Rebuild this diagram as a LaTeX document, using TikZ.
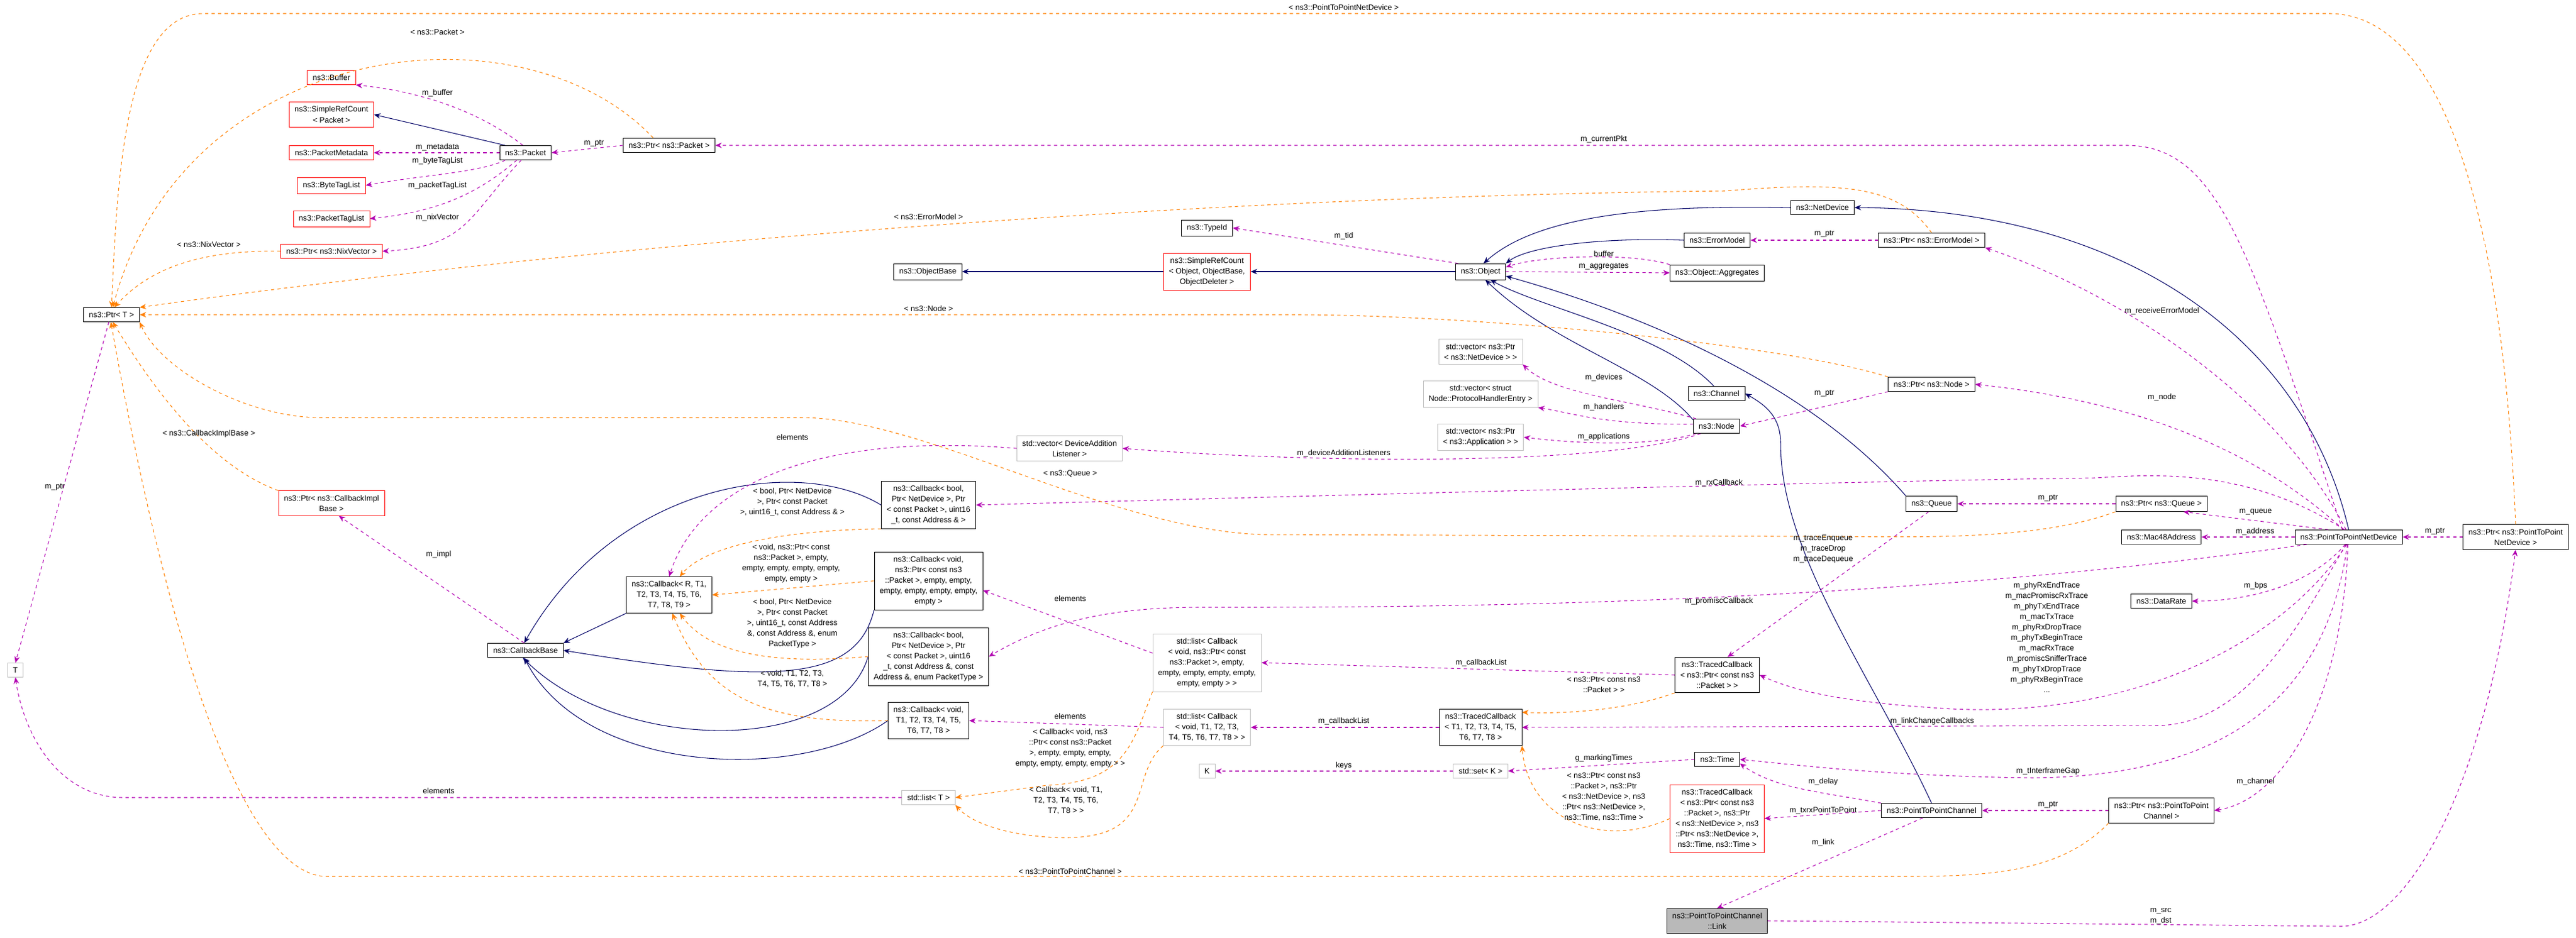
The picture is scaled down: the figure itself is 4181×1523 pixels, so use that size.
\documentclass[tikz,border=0pt]{standalone}
\usepackage{fontspec}
\setmainfont{Liberation Sans}
\usetikzlibrary{arrows.meta}

\tikzset{
  cls/.style={draw=black, fill=white, align=center, inner xsep=5pt, inner ysep=4pt, font=\fontsize{7.2}{9.7}\selectfont},
  redcls/.style={cls, draw=red},
  graycls/.style={cls, draw=gray!50},
  hlcls/.style={cls, fill=gray!55},
  lab/.style={align=center, inner sep=0pt, font=\fontsize{7.2}{9.7}\selectfont},
  usage/.style={draw=violet!60!magenta, dash pattern=on 3pt off 3pt, line width=0.6pt, -{Stealth[length=6pt,width=5pt]}},
  tmpl/.style={draw=orange, dash pattern=on 3pt off 3pt, line width=0.6pt, -{Stealth[length=6pt,width=5pt]}},
  inh/.style={draw=blue!40!black, line width=0.6pt, -{Stealth[length=6pt,width=5pt]}}
}

\begin{document}
\begin{tikzpicture}[x=0.02cm, y=-0.02cm]
\useasboundingbox (0,0) rectangle (4181,1523);
% classes
\node[redcls] (buf) at (538,126) {ns3::Buffer};
\node[redcls] (srcpkt) at (538,186) {ns3::SimpleRefCount\\< Packet >};
\node[redcls] (meta) at (538,248) {ns3::PacketMetadata};
\node[redcls] (btl) at (538,301) {ns3::ByteTagList};
\node[redcls] (ptl) at (538,355) {ns3::PacketTagList};
\node[redcls] (ptrnix) at (538,408) {ns3::Ptr< ns3::NixVector >};
\node[cls] (pkt) at (853,248) {ns3::Packet};
\node[cls] (ptrpkt) at (1086,236) {ns3::Ptr< ns3::Packet >};
\node[cls] (ptrt) at (181,511) {ns3::Ptr< T >};
\node[graycls] (t) at (25,1088) {T};
\node[redcls] (ptrcib) at (538,817) {ns3::Ptr< ns3::CallbackImpl\\Base >};
\node[cls] (cbb) at (853,1056) {ns3::CallbackBase};
\node[cls] (cbr) at (1086,966) {ns3::Callback< R, T1,\\T2, T3, T4, T5, T6,\\T7, T8, T9 >};
\node[cls] (cbaddr) at (1507,820) {ns3::Callback< bool,\\Ptr< NetDevice >, Ptr\\< const Packet >, uint16\\\_t, const Address \& >};
\node[cls] (cbvp) at (1507,943) {ns3::Callback< void,\\ns3::Ptr< const ns3\\::Packet >, empty, empty,\\empty, empty, empty, empty,\\empty >};
\node[cls] (cbpt) at (1507,1066) {ns3::Callback< bool,\\Ptr< NetDevice >, Ptr\\< const Packet >, uint16\\\_t, const Address \&, const\\Address \&, enum PacketType >};
\node[cls] (cbt) at (1507,1170) {ns3::Callback< void,\\T1, T2, T3, T4, T5,\\T6, T7, T8 >};
\node[graycls] (listt) at (1507,1295) {std::list< T >};
\node[graycls] (lcbp) at (1959,1076) {std::list< Callback\\< void, ns3::Ptr< const\\ns3::Packet >, empty,\\empty, empty, empty, empty,\\empty, empty > >};
\node[graycls] (lcbt) at (1959,1181) {std::list< Callback\\< void, T1, T2, T3,\\T4, T5, T6, T7, T8 > >};
\node[graycls] (k) at (1959,1252) {K};
\node[graycls] (setk) at (2403,1252) {std::set< K >};
\node[cls] (tct) at (2403,1181) {ns3::TracedCallback\\< T1, T2, T3, T4, T5,\\T6, T7, T8 >};
\node[cls] (tcp) at (2787,1096) {ns3::TracedCallback\\< ns3::Ptr< const ns3\\::Packet > >};
\node[cls] (time) at (2787,1233) {ns3::Time};
\node[redcls] (tcpt) at (2787,1329) {ns3::TracedCallback\\< ns3::Ptr< const ns3\\::Packet >, ns3::Ptr\\< ns3::NetDevice >, ns3\\::Ptr< ns3::NetDevice >,\\ns3::Time, ns3::Time >};
\node[hlcls] (link) at (2787,1495) {ns3::PointToPointChannel\\::Link};
\node[cls] (tid) at (1959,370) {ns3::TypeId};
\node[cls] (objbase) at (1506,441) {ns3::ObjectBase};
\node[redcls] (srcobj) at (1959,441) {ns3::SimpleRefCount\\< Object, ObjectBase,\\ObjectDeleter >};
\node[cls] (obj) at (2403,441) {ns3::Object};
\node[cls] (agg) at (2787,443) {ns3::Object::Aggregates};
\node[cls] (em) at (2787,390) {ns3::ErrorModel};
\node[graycls] (vnd) at (2403,571) {std::vector< ns3::Ptr\\< ns3::NetDevice > >};
\node[graycls] (vph) at (2403,640) {std::vector< struct\\Node::ProtocolHandlerEntry >};
\node[graycls] (vapp) at (2403,710) {std::vector< ns3::Ptr\\< ns3::Application > >};
\node[graycls] (vdal) at (1736,728) {std::vector< DeviceAddition\\Listener >};
\node[cls] (chan) at (2786,639) {ns3::Channel};
\node[cls] (node) at (2786,692) {ns3::Node};
\node[cls] (nd) at (2958,337) {ns3::NetDevice};
\node[cls] (ptrem) at (3135,390) {ns3::Ptr< ns3::ErrorModel >};
\node[cls] (ptrnode) at (3135,624) {ns3::Ptr< ns3::Node >};
\node[cls] (queue) at (3135,818) {ns3::Queue};
\node[cls] (ptrq) at (3508,818) {ns3::Ptr< ns3::Queue >};
\node[cls] (mac) at (3508,872) {ns3::Mac48Address};
\node[cls] (pnd) at (3812,872) {ns3::PointToPointNetDevice};
\node[cls] (ptrpnd) at (4083,872) {ns3::Ptr< ns3::PointToPoint\\NetDevice >};
\node[cls] (dr) at (3508,976) {ns3::DataRate};
\node[cls] (pch) at (3135,1316) {ns3::PointToPointChannel};
\node[cls] (ptrch) at (3508,1316) {ns3::Ptr< ns3::PointToPoint\\Channel >};

% inheritance
\draw[inh] (pkt.160) -- (srcpkt.east);
\draw[inh] (cbr.south west) -- (cbb.north east);
\draw[inh] (cbaddr.west) .. controls (1300,740) and (1000,780) .. (cbb.100);
\draw[inh] (cbvp.south west) .. controls (1390,1110) and (1250,1110) .. (cbb.east);
\draw[inh] (cbpt.west) .. controls (1360,1230) and (1000,1220) .. (cbb.-110);
\draw[inh] (cbt.west) .. controls (1300,1270) and (950,1260) .. (cbb.-100);
\draw[inh] (srcobj.west) -- (objbase.east);
\draw[inh] (obj.west) -- (srcobj.east);
\draw[inh] (nd.west) .. controls (2700,333) and (2500,345) .. (obj.70);
\draw[inh] (em.west) .. controls (2600,385) and (2480,400) .. (obj.north east);
\draw[inh] (queue.north west) .. controls (2950,640) and (2700,520) .. (obj.-10);
\draw[inh] (chan.110) .. controls (2700,540) and (2500,500) .. (obj.-40);
\draw[inh] (node.165) .. controls (2680,600) and (2520,560) .. (obj.-60);
\draw[inh] (pnd.north) .. controls (3740,550) and (3450,340) .. (nd.east);
\draw[inh] (pch.north) .. controls (3040,1100) and (2890,900) .. (2890,720) .. controls (2890,680) and (2870,660) .. (chan.east);

% usage
\draw[usage] (pkt.110) .. controls (790,190) and (700,150) .. (buf.south east);
\draw[usage] (pkt.west) -- (meta.east);
\draw[usage] (pkt.-160) .. controls (780,280) and (680,285) .. (btl.east);
\draw[usage] (pkt.-140) .. controls (770,320) and (700,345) .. (ptl.east);
\draw[usage] (pkt.-120) .. controls (760,350) and (760,400) .. (ptrnix.east);
\draw[usage] (ptrpkt.west) -- (pkt.east);
\draw[usage] (pnd.130) .. controls (3650,400) and (3600,236) .. (3450,236) -- (ptrpkt.east);
\draw[usage] (ptrt.-110) -- (t.north);
\draw[usage] (cbb.100) -- (ptrcib.-60);
\draw[usage] (listt.west) -- (200,1295) .. controls (100,1295) and (40,1200) .. (t.south);
\draw[usage] (obj.160) -- (tid.east);
\draw[usage] (obj.east) -- (agg.west);
\draw[usage] (agg.north west) .. controls (2650,410) and (2500,415) .. (obj.10);
\draw[usage] (ptrem.west) -- (em.east);
\draw[usage] (node.160) .. controls (2650,650) and (2520,640) .. (vnd.south east);
\draw[usage] (node.175) .. controls (2600,690) and (2550,670) .. (vph.south east);
\draw[usage] (node.200) .. controls (2700,720) and (2600,725) .. (vapp.east);
\draw[usage] (node.-155) .. controls (2600,760) and (2100,750) .. (vdal.east);
\draw[usage] (vdal.west) .. controls (1300,700) and (1130,800) .. (cbr.north);
\draw[usage] (ptrnode.south west) -- (node.east);
\draw[usage] (pnd.110) .. controls (3700,650) and (3450,480) .. (ptrem.south east);
\draw[usage] (pnd.125) .. controls (3650,720) and (3450,650) .. (ptrnode.east);
\draw[usage] (pnd.120) .. controls (3650,760) and (3500,770) .. (3400,776) .. controls (3100,780) and (2500,795) .. (cbaddr.east);
\draw[usage] (pnd.190) .. controls (3000,990) and (2200,986) .. (1950,986) .. controls (1800,986) and (1700,1010) .. (cbpt.east);
\draw[usage] (lcbp.170) -- (cbvp.-10);
\draw[usage] (tcp.west) -- (lcbp.east);
\draw[usage] (lcbt.west) -- (cbt.east);
\draw[usage] (tct.west) -- (lcbt.east);
\draw[usage] (setk.west) -- (k.east);
\draw[usage] (time.west) -- (setk.east);
\draw[usage] (ptrq.west) -- (queue.east);
\draw[usage] (pnd.160) -- (ptrq.-20);
\draw[usage] (pnd.west) -- (mac.east);
\draw[usage] (ptrpnd.west) -- (pnd.east);
\draw[usage] (queue.-110) -- (tcp.60);
\draw[usage] (pnd.-105) .. controls (3700,1050) and (3450,1170) .. (3150,1150) .. controls (3000,1140) and (2920,1125) .. (tcp.east);
\draw[usage] (pnd.-115) .. controls (3750,950) and (3650,976) .. (dr.east);
\draw[usage] (pnd.-110) .. controls (3740,1000) and (3650,1178) .. (3500,1178) -- (tct.east);
\draw[usage] (pnd.-100) .. controls (3780,1100) and (3650,1260) .. (3300,1263) .. controls (3050,1260) and (2900,1240) .. (time.east);
\draw[usage] (pch.north west) .. controls (2950,1285) and (2880,1280) .. (time.-10);
\draw[usage] (pch.west) -- (tcpt.east);
\draw[usage] (pnd.-95) .. controls (3800,1150) and (3700,1300) .. (ptrch.east);
\draw[usage] (ptrch.west) -- (pch.east);
\draw[usage] (pch.-140) -- (link.north);
\draw[usage] (link.east) -- (3800,1504) .. controls (3900,1504) and (4030,1300) .. (ptrpnd.south);

% templates
\draw[tmpl] (ptrpnd.north) .. controls (4060,300) and (3950,22) .. (3780,22) -- (330,22) .. controls (200,22) and (190,300) .. (ptrt.north);
\draw[tmpl] (ptrpkt.155) .. controls (850,0) and (300,60) .. (ptrt.80);
\draw[tmpl] (ptrnix.west) .. controls (300,405) and (230,450) .. (ptrt.70);
\draw[tmpl] (ptrem.north) .. controls (3080,300) and (2990,295) .. (2800,310) .. controls (2000,318) and (1000,390) .. (ptrt.north east);
\draw[tmpl] (ptrnode.north west) .. controls (2900,560) and (2400,511) .. (2100,511) -- (ptrt.east);
\draw[tmpl] (ptrq.south west) .. controls (3300,880) and (3100,871) .. (2950,871) -- (2050,868) .. controls (1800,860) and (1500,678) .. (1300,678) -- (520,678) .. controls (400,678) and (260,600) .. (ptrt.south east);
\draw[tmpl] (ptrcib.north west) .. controls (350,760) and (260,650) .. (ptrt.-80);
\draw[tmpl] (ptrch.south west) .. controls (3350,1410) and (3250,1423) .. (3100,1423) -- (530,1423) .. controls (430,1423) and (300,1200) .. (ptrt.-95);
\draw[tmpl] (cbaddr.south west) .. controls (1300,860) and (1150,880) .. (cbr.60);
\draw[tmpl] (cbvp.west) -- (cbr.east);
\draw[tmpl] (cbpt.west) .. controls (1250,1080) and (1150,1060) .. (cbr.-60);
\draw[tmpl] (cbt.west) .. controls (1250,1175) and (1150,1140) .. (cbr.-80);
\draw[tmpl] (lcbp.south west) .. controls (1840,1200) and (1830,1270) .. (1700,1275) -- (listt.east);
\draw[tmpl] (lcbt.south west) .. controls (1830,1260) and (1880,1360) .. (1730,1360) .. controls (1650,1360) and (1580,1340) .. (listt.south east);
\draw[tmpl] (tcp.south west) .. controls (2650,1150) and (2550,1160) .. (tct.20);
\draw[tmpl] (tcpt.west) .. controls (2600,1380) and (2480,1330) .. (tct.south east);

% labels
\node[lab] at (2181,12) {< ns3::PointToPointNetDevice >};
\node[lab] at (710,52) {< ns3::Packet >};
\node[lab] at (710,151) {m\_buffer};
\node[lab] at (710,239) {m\_metadata};
\node[lab] at (710,261) {m\_byteTagList};
\node[lab] at (710,301) {m\_packetTagList};
\node[lab] at (710,353) {m\_nixVector};
\node[lab] at (964,233) {m\_ptr};
\node[lab] at (339,397) {< ns3::NixVector >};
\node[lab] at (339,704) {< ns3::CallbackImplBase >};
\node[lab] at (89,791) {m\_ptr};
\node[lab] at (712,900) {m\_impl};
\node[lab] at (712,1284) {elements};
\node[lab] at (1286,710) {elements};
\node[lab] at (1286,815) {< bool, Ptr< NetDevice\\>, Ptr< const Packet\\>, uint16\_t, const Address \& >};
\node[lab] at (1284,915) {< void, ns3::Ptr< const\\ns3::Packet >, empty,\\empty, empty, empty, empty,\\empty, empty >};
\node[lab] at (1286,1012) {< bool, Ptr< NetDevice\\>, Ptr< const Packet\\>, uint16\_t, const Address\\\&, const Address \&, enum\\PacketType >};
\node[lab] at (1286,1102) {< void, T1, T2, T3,\\T4, T5, T6, T7, T8 >};
\node[lab] at (2603,226) {m\_currentPkt};
\node[lab] at (1507,352) {< ns3::ErrorModel >};
\node[lab] at (2181,383) {m\_tid};
\node[lab] at (2603,412) {buffer};
\node[lab] at (2603,433) {m\_aggregates};
\node[lab] at (1507,501) {< ns3::Node >};
\node[lab] at (2603,613) {m\_devices};
\node[lab] at (2603,661) {m\_handlers};
\node[lab] at (2603,709) {m\_applications};
\node[lab] at (2181,736) {m\_deviceAdditionListeners};
\node[lab] at (1737,769) {< ns3::Queue >};
\node[lab] at (2790,784) {m\_rxCallback};
\node[lab] at (2790,976) {m\_promiscCallback};
\node[lab] at (1737,972) {elements};
\node[lab] at (2404,1076) {m\_callbackList};
\node[lab] at (2603,1112) {< ns3::Ptr< const ns3\\::Packet > >};
\node[lab] at (1737,1163) {elements};
\node[lab] at (1737,1215) {< Callback< void, ns3\\::Ptr< const ns3::Packet\\>, empty, empty, empty,\\empty, empty, empty, empty > >};
\node[lab] at (2181,1171) {m\_callbackList};
\node[lab] at (2181,1243) {keys};
\node[lab] at (2603,1231) {g\_markingTimes};
\node[lab] at (2603,1294) {< ns3::Ptr< const ns3\\::Packet >, ns3::Ptr\\< ns3::NetDevice >, ns3\\::Ptr< ns3::NetDevice >,\\ns3::Time, ns3::Time >};
\node[lab] at (1730,1300) {< Callback< void, T1,\\T2, T3, T4, T5, T6,\\T7, T8 > >};
\node[lab] at (1737,1415) {< ns3::PointToPointChannel >};
\node[lab] at (2961,380) {m\_ptr};
\node[lab] at (3509,505) {m\_receiveErrorModel};
\node[lab] at (2961,639) {m\_ptr};
\node[lab] at (3509,645) {m\_node};
\node[lab] at (3324,809) {m\_ptr};
\node[lab] at (3661,831) {m\_queue};
\node[lab] at (3660,863) {m\_address};
\node[lab] at (3952,863) {m\_ptr};
\node[lab] at (2959,891) {m\_traceEnqueue\\m\_traceDrop\\m\_traceDequeue};
\node[lab] at (3661,951) {m\_bps};
\node[lab] at (3322,1035) {m\_phyRxEndTrace\\m\_macPromiscRxTrace\\m\_phyTxEndTrace\\m\_macTxTrace\\m\_phyRxDropTrace\\m\_phyTxBeginTrace\\m\_macRxTrace\\m\_promiscSnifferTrace\\m\_phyTxDropTrace\\m\_phyRxBeginTrace\\...};
\node[lab] at (3136,1171) {m\_linkChangeCallbacks};
\node[lab] at (3324,1252) {m\_tInterframeGap};
\node[lab] at (2959,1269) {m\_delay};
\node[lab] at (3661,1269) {m\_channel};
\node[lab] at (3324,1307) {m\_ptr};
\node[lab] at (2959,1316) {m\_txrxPointToPoint};
\node[lab] at (2959,1368) {m\_link};
\node[lab] at (3507,1488) {m\_src\\m\_dst};
\end{tikzpicture}
\end{document}
